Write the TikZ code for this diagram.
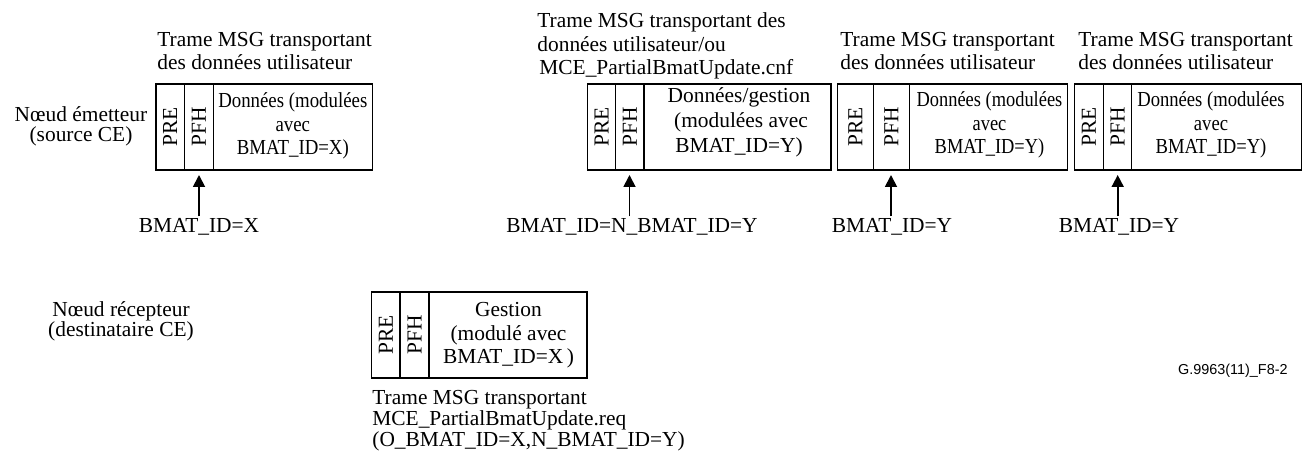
\documentclass[tikz,border=0pt]{standalone}
\usepackage{fontspec}
\setmainfont{Liberation Serif}
\newfontfamily\figsans{Liberation Sans}
\usepackage{graphicx}
\usetikzlibrary{arrows.meta}

\newcommand\figfont{\fontsize{10.7pt}{11.75pt}\selectfont}

\begin{document}
\begin{tikzpicture}[x=0.5pt,y=-0.5pt,
  every node/.style={font=\figfont, inner sep=0pt},
  cell/.style={draw, line width=0.75pt, minimum height=43pt},
  % multi-line texts are placed by the baseline of their last line
  txt/.style={align=center, anchor=base},
  ttl/.style={align=left, anchor=base west},
  lbl/.style={anchor=base, inner sep=1pt},
  arr/.style={line width=0.9pt, -{Triangle[length=6pt,width=6pt]}},
]
\useasboundingbox (0,0) rectangle (1308,454);

% ---- transmitter side ----
\node[txt] (tx) at (81,142) {N\oe ud émetteur\\[-1.75pt](source CE)};

% frame 1
\node[ttl] (f1ttl) at (157,70) {Trame MSG transportant\\des données utilisateur};
\node[cell, minimum width=14.15pt] (f1pre) at (170.15,127) {\rotatebox{90}{PRE}};
\node[cell, minimum width=14.5pt]  (f1pfh) at (198.8,127)  {\rotatebox{90}{PFH}};
\node[cell, minimum width=79.5pt]  (f1dat) at (292.8,127)  {};
\node[txt, xscale=0.88] (f1txt) at (292.8,155) {Données (modulées\\avec\\BMAT\_ID=X)};
\node[lbl] (l1) at (199,233) {BMAT\_ID=X};
\coordinate (t1) at (199,175);
\draw[arr] (t1 |- l1.north) -- (t1);

% frame 2
\node[ttl] (f2ttl) at (537,75) {Trame MSG transportant des\\données utilisateur/ou\\\hspace{1pt}MCE\_PartialBmatUpdate.cnf};
\node[cell, minimum width=14.2pt]  (f2pre) at (601.5,127)  {\rotatebox{90}{PRE}};
\node[cell, minimum width=14.15pt] (f2pfh) at (629.85,127) {\rotatebox{90}{PFH}};
\node[cell, minimum width=93.5pt]  (f2dat) at (737.5,127)  {};
\node[txt, font=\fontsize{10.7pt}{12.5pt}\selectfont] (f2txt) at (739,153) {Données/gestion\\\hspace{2pt}(modulées avec\\BMAT\_ID=Y)};
\node[lbl] (l2) at (632,233) {BMAT\_ID=N\_BMAT\_ID=Y};
\coordinate (t2) at (629.5,175);
\draw[arr] (t2 |- l2.north) -- (t2);

% frame 3
\node[ttl] (f3ttl) at (840,70) {Trame MSG transportant\\des données utilisateur};
\node[cell, minimum width=18pt] (f3pre) at (855.3,127) {\rotatebox{90}{PRE}};
\node[cell, minimum width=18pt] (f3pfh) at (891.3,127) {\rotatebox{90}{PFH}};
\node[cell, minimum width=79pt] (f3dat) at (988.3,127) {};
\node[txt, xscale=0.86] (f3txt) at (989.5,154) {Données (modulées\\avec\\BMAT\_ID=Y)};
\node[lbl] (l3) at (892,233) {BMAT\_ID=Y};
\coordinate (t3) at (891,175);
\draw[arr] (t3 |- l3.north) -- (t3);

% frame 4
\node[ttl] (f4ttl) at (1078,70) {Trame MSG transportant\\des données utilisateur};
\node[cell, minimum width=14.5pt] (f4pre) at (1088.8,127) {\rotatebox{90}{PRE}};
\node[cell, minimum width=14.2pt] (f4pfh) at (1117.5,127) {\rotatebox{90}{PFH}};
\node[cell, minimum width=85pt]   (f4dat) at (1216.7,127) {};
\node[txt, xscale=0.87] (f4txt) at (1211,154) {Données (modulées\\avec\\BMAT\_ID=Y)};
\node[lbl] (l4) at (1119,233) {BMAT\_ID=Y};
\coordinate (t4) at (1117.7,175);
\draw[arr] (t4 |- l4.north) -- (t4);

% ---- receiver side ----
\node[txt] (rx) at (121,337) {N\oe ud récepteur\\[-1.75pt](destinataire CE)};

\node[cell, minimum width=14.15pt] (f5pre) at (385.85,335) {\rotatebox{90}{PRE}};
\node[cell, minimum width=14.5pt]  (f5pfh) at (414.5,335)  {\rotatebox{90}{PFH}};
\node[cell, minimum width=79pt]    (f5dat) at (508,335)    {};
\node[txt] (f5txt) at (508.5,364) {Gestion\\(modulé avec\\BMAT\_ID=X\,)};
\node[ttl, font=\fontsize{10.7pt}{10.5pt}\selectfont] (f5ttl) at (372,447) {Trame MSG transportant\\MCE\_PartialBmatUpdate.req\\(O\_BMAT\_ID=X,N\_BMAT\_ID=Y)};

% figure identifier
\node[anchor=base east, font=\figsans\fontsize{7.2pt}{8pt}\selectfont] (figid) at (1288,375) {G.9963(11)\_F8-2};
\end{tikzpicture}
\end{document}
